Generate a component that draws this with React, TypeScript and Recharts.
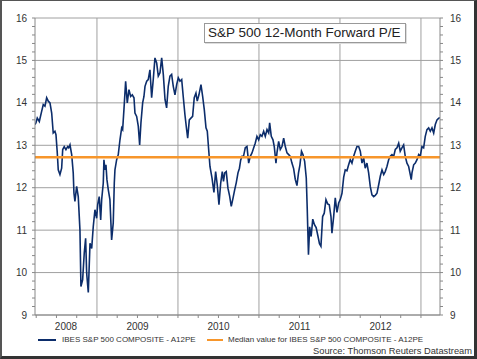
import { LineChart, Line, XAxis, YAxis, CartesianGrid, ReferenceLine } from 'recharts';

// decimal years, roughly weekly readings
const dates = [
  2008.235, 2008.247, 2008.263, 2008.288, 2008.317, 2008.337, 2008.358, 2008.379, 2008.399, 2008.42,
  2008.441, 2008.46, 2008.481, 2008.494, 2008.51, 2008.522, 2008.543, 2008.564, 2008.577, 2008.596,
  2008.617, 2008.638, 2008.651, 2008.667, 2008.688, 2008.707, 2008.716, 2008.728, 2008.749, 2008.769,
  2008.79, 2008.802, 2008.823, 2008.843, 2008.86, 2008.873, 2008.893, 2008.914, 2008.935, 2008.954,
  2008.975, 2008.996, 2009.009, 2009.028, 2009.046, 2009.058, 2009.078, 2009.086, 2009.099, 2009.111,
  2009.123, 2009.14, 2009.16, 2009.181, 2009.201, 2009.214, 2009.222, 2009.243, 2009.263, 2009.284,
  2009.305, 2009.317, 2009.333, 2009.354, 2009.374, 2009.395, 2009.416, 2009.436, 2009.457, 2009.469,
  2009.49, 2009.51, 2009.527, 2009.543, 2009.564, 2009.58, 2009.593, 2009.614, 2009.633, 2009.654,
  2009.675, 2009.695, 2009.716, 2009.737, 2009.757, 2009.778, 2009.799, 2009.819, 2009.84, 2009.86,
  2009.88, 2009.901, 2009.922, 2009.942, 2009.963, 2009.984, 2010.004, 2010.025, 2010.046, 2010.065,
  2010.086, 2010.107, 2010.12, 2010.14, 2010.16, 2010.181, 2010.201, 2010.222, 2010.238, 2010.259,
  2010.284, 2010.305, 2010.325, 2010.346, 2010.362, 2010.379, 2010.395, 2010.42, 2010.444, 2010.465,
  2010.485, 2010.506, 2010.527, 2010.547, 2010.562, 2010.577, 2010.596, 2010.617, 2010.638, 2010.658,
  2010.679, 2010.7, 2010.72, 2010.741, 2010.759, 2010.774, 2010.79, 2010.809, 2010.831, 2010.852,
  2010.873, 2010.893, 2010.914, 2010.935, 2010.954, 2010.975, 2010.996, 2011.016, 2011.037, 2011.058,
  2011.078, 2011.099, 2011.12, 2011.132, 2011.152, 2011.173, 2011.189, 2011.21, 2011.222, 2011.243,
  2011.263, 2011.284, 2011.305, 2011.325, 2011.346, 2011.367, 2011.386, 2011.407, 2011.428, 2011.448,
  2011.469, 2011.488, 2011.506, 2011.525, 2011.543, 2011.564, 2011.584, 2011.596, 2011.611, 2011.626,
  2011.644, 2011.664, 2011.685, 2011.706, 2011.726, 2011.747, 2011.765, 2011.786, 2011.806, 2011.827,
  2011.848, 2011.868, 2011.889, 2011.901, 2011.922, 2011.942, 2011.963, 2011.984, 2012.004, 2012.025,
  2012.046, 2012.065, 2012.086, 2012.107, 2012.127, 2012.148, 2012.169, 2012.189, 2012.21, 2012.231,
  2012.251, 2012.272, 2012.293, 2012.312, 2012.333, 2012.354, 2012.374, 2012.395, 2012.416, 2012.436,
  2012.457, 2012.478, 2012.498, 2012.519, 2012.54, 2012.559, 2012.58, 2012.601, 2012.621, 2012.642,
  2012.663, 2012.683, 2012.704, 2012.725, 2012.744, 2012.765, 2012.786, 2012.806, 2012.827, 2012.848,
  2012.868, 2012.88, 2012.889, 2012.91, 2012.93, 2012.951, 2012.972, 2012.991, 2013.012, 2013.033,
  2013.053, 2013.074, 2013.095, 2013.115, 2013.136, 2013.157, 2013.177, 2013.198, 2013.219, 2013.235,
];

const forwardPE = [
  13.49, 13.53, 13.64, 13.56, 13.8, 13.96, 13.92, 14.12, 14.04, 14.0,
  13.76, 13.29, 13.33, 13.25, 12.82, 12.42, 12.31, 12.46, 12.9, 12.97,
  12.9, 12.97, 12.94, 13.01, 12.78, 12.35, 11.87, 11.68, 12.03, 11.79,
  11.0, 9.67, 9.83, 10.46, 10.81, 9.98, 9.53, 10.69, 10.57, 11.08,
  11.48, 11.28, 11.6, 11.79, 11.24, 11.72, 12.11, 12.66, 12.42, 12.54,
  12.19, 11.95, 11.72, 10.77, 11.17, 12.11, 12.42, 12.66, 12.78, 13.13,
  13.41, 13.37, 13.84, 14.51, 14.0, 14.31, 14.15, 14.19, 14.12, 13.76,
  13.68, 13.45, 13.01, 13.53, 14.0, 14.15, 14.39, 14.51, 14.55, 14.78,
  14.12, 14.55, 15.06, 14.94, 14.63, 14.71, 15.06, 14.67, 14.08, 13.88,
  14.39, 14.63, 14.67, 14.39, 14.19, 14.43, 14.59, 14.51, 14.55, 14.15,
  13.72, 13.37, 13.17, 13.6, 13.64, 13.68, 14.12, 14.23, 14.04, 14.19,
  14.43, 14.15, 13.84, 13.41, 13.33, 12.9, 12.5, 12.23, 11.89, 12.38,
  12.07, 11.6, 12.1, 12.38, 12.15, 12.35, 12.38, 11.99, 11.8, 11.56,
  11.75, 11.95, 12.12, 12.35, 12.46, 12.65, 12.74, 12.74, 12.94, 12.97,
  12.58, 12.74, 12.82, 12.94, 13.05, 13.21, 13.13, 13.25, 13.21, 13.33,
  13.21, 13.37, 13.29, 13.53, 13.21, 13.13, 12.97, 12.58, 12.82, 13.09,
  12.9, 12.97, 13.17, 12.97, 12.82, 12.78, 12.74, 12.58, 12.45, 12.2,
  12.05, 12.35, 12.54, 12.86, 12.78, 12.62, 12.23, 11.5, 10.42, 11.08,
  10.85, 11.26, 11.13, 11.06, 10.88, 10.68, 10.62, 11.32, 11.4, 11.72,
  11.62, 11.6, 11.32, 10.93, 11.32, 11.76, 11.42, 11.64, 11.72, 11.87,
  12.25, 12.42, 12.4, 12.54, 12.66, 12.58, 12.74, 12.86, 12.97, 12.97,
  12.86, 12.58, 12.7, 12.46, 12.58, 12.35, 12.03, 11.83, 11.79, 11.82,
  11.87, 12.07, 12.27, 12.42, 12.31, 12.38, 12.5, 12.66, 12.74, 12.78,
  12.74, 12.9, 12.94, 13.05, 12.86, 12.94, 13.01, 12.74, 12.58, 12.5,
  12.31, 12.19, 12.35, 12.54, 12.58, 12.66, 12.78, 12.74, 12.97, 12.94,
  13.21, 13.37, 13.41, 13.33, 13.41, 13.29, 13.49, 13.6, 13.64, 13.65,
];

const MEDIAN_PE = 12.72;
const X_DOMAIN = [2008.235, 2013.235];

const yearBounds = [2009, 2010, 2011, 2012, 2013];
const quarterTicks = [
  2008.25, 2008.5, 2008.75, 2009, 2009.25, 2009.5, 2009.75, 2010, 2010.25, 2010.5,
  2010.75, 2011, 2011.25, 2011.5, 2011.75, 2012, 2012.25, 2012.5, 2012.75, 2013,
];
// labels sit in the middle of the visible part of each year
const yearLabelPos = [2008.6175, 2009.501, 2010.501, 2011.501, 2012.501];

const yLabels = [9, 10, 11, 12, 13, 14, 15, 16];
const yMinorTicks = [
  9, 9.2, 9.4, 9.6, 9.8, 10, 10.2, 10.4, 10.6, 10.8, 11, 11.2, 11.4, 11.6, 11.8,
  12, 12.2, 12.4, 12.6, 12.8, 13, 13.2, 13.4, 13.6, 13.8, 14, 14.2, 14.4, 14.6, 14.8,
  15, 15.2, 15.4, 15.6, 15.8, 16,
];

const seriesName = 'IBES S&P 500 COMPOSITE - A12PE';
const medianName = 'Median value for IBES S&P 500 COMPOSITE - A12PE';

const NAVY = '#0c2d6b';
const ORANGE = '#f7962b';
const FONT = '"Liberation Sans", Arial, sans-serif';

const data = dates.map((t, i) => ({ t, pe: forwardPE[i] }));
const xTicks = [...quarterTicks, ...yearLabelPos].sort((a, b) => a - b);

const yFmt = (v: number) => (yLabels.includes(Math.round(v * 10) / 10) ? String(Math.round(v)) : '');

// quarter ticks get a short mark, label positions get the year text
const XTick = (props: any) => {
  const { x, y, payload } = props;
  const v = payload.value;
  if (yearLabelPos.includes(v)) {
    return (
      <text x={x} y={y + 12} textAnchor="middle" fill="#333" fontSize={10} fontFamily={FONT}>
        {Math.floor(v)}
      </text>
    );
  }
  return <line x1={x} x2={x} y1={y - 3} y2={y} stroke="#888" />;
};

export default function App() {
  return (
    <div
      style={{
        position: 'absolute',
        left: 0,
        top: 0,
        width: 477,
        height: 359,
        boxSizing: 'border-box',
        background: '#fff',
        borderTop: '1px solid #555',
        borderLeft: '2px solid #555',
        borderRight: '3px solid #333',
        borderBottom: '3px solid #333',
        fontFamily: FONT,
        overflow: 'hidden',
      }}
    >
      <div style={{ position: 'absolute', left: -2, top: -1 }}>
        <LineChart width={477} height={359} data={data} margin={{ top: 18, right: 0, left: 0, bottom: 0 }}>
          <CartesianGrid
            stroke="#a0a0a0"
            yAxisId="l"
            verticalValues={yearBounds}
            horizontalValues={yLabels}
          />
          <XAxis
            dataKey="t"
            type="number"
            domain={X_DOMAIN}
            allowDataOverflow
            ticks={xTicks}
            interval={0}
            tick={<XTick />}
            tickLine={false}
            tickSize={3}
            tickMargin={0}
            height={44}
            stroke="#888"
          />
          <YAxis
            yAxisId="l"
            domain={[9, 16]}
            allowDataOverflow
            ticks={yMinorTicks}
            interval={0}
            tickFormatter={yFmt}
            width={35}
            tickSize={3}
            tickMargin={5}
            stroke="#888"
            tick={{ fill: '#333', fontSize: 10, fontFamily: FONT }}
          />
          <YAxis
            yAxisId="r"
            orientation="right"
            domain={[9, 16]}
            allowDataOverflow
            ticks={yMinorTicks}
            interval={0}
            tickFormatter={yFmt}
            width={37}
            tickSize={3}
            tickMargin={7}
            stroke="#888"
            tick={{ fill: '#333', fontSize: 10, fontFamily: FONT }}
          />
          <Line
            yAxisId="l"
            type="linear"
            dataKey="pe"
            name={seriesName}
            stroke={NAVY}
            strokeWidth={1.6}
            dot={false}
            isAnimationActive={false}
          />
          <ReferenceLine yAxisId="l" y={MEDIAN_PE} stroke={ORANGE} strokeWidth={2.5} />
        </LineChart>
      </div>

      <div
        style={{
          position: 'absolute',
          left: 202,
          top: 22,
          width: 197,
          height: 18,
          border: '1px solid #999',
          background: '#fff',
          boxShadow: '1px 1px 0 #ddd',
          fontSize: 13.5,
          lineHeight: '18px',
          color: '#222',
          paddingLeft: 3,
          whiteSpace: 'nowrap',
        }}
      >
        S&amp;P 500 12-Month Forward P/E
      </div>

      <div style={{ position: 'absolute', left: 36, top: 333, fontSize: 8, color: '#333', whiteSpace: 'nowrap', lineHeight: '12px' }}>
        <span style={{ display: 'inline-block', width: 18, height: 2, background: NAVY, verticalAlign: 'middle', marginRight: 6 }} />
        {seriesName}
      </div>
      <div style={{ position: 'absolute', left: 205, top: 333, fontSize: 8, color: '#333', whiteSpace: 'nowrap', lineHeight: '12px' }}>
        <span style={{ display: 'inline-block', width: 16, height: 2, background: ORANGE, verticalAlign: 'middle', marginRight: 5 }} />
        {medianName}
      </div>
      <div style={{ position: 'absolute', right: 2, top: 344, fontSize: 9.3, color: '#333', whiteSpace: 'nowrap', lineHeight: '13px' }}>
        Source: Thomson Reuters Datastream
      </div>
    </div>
  );
}
